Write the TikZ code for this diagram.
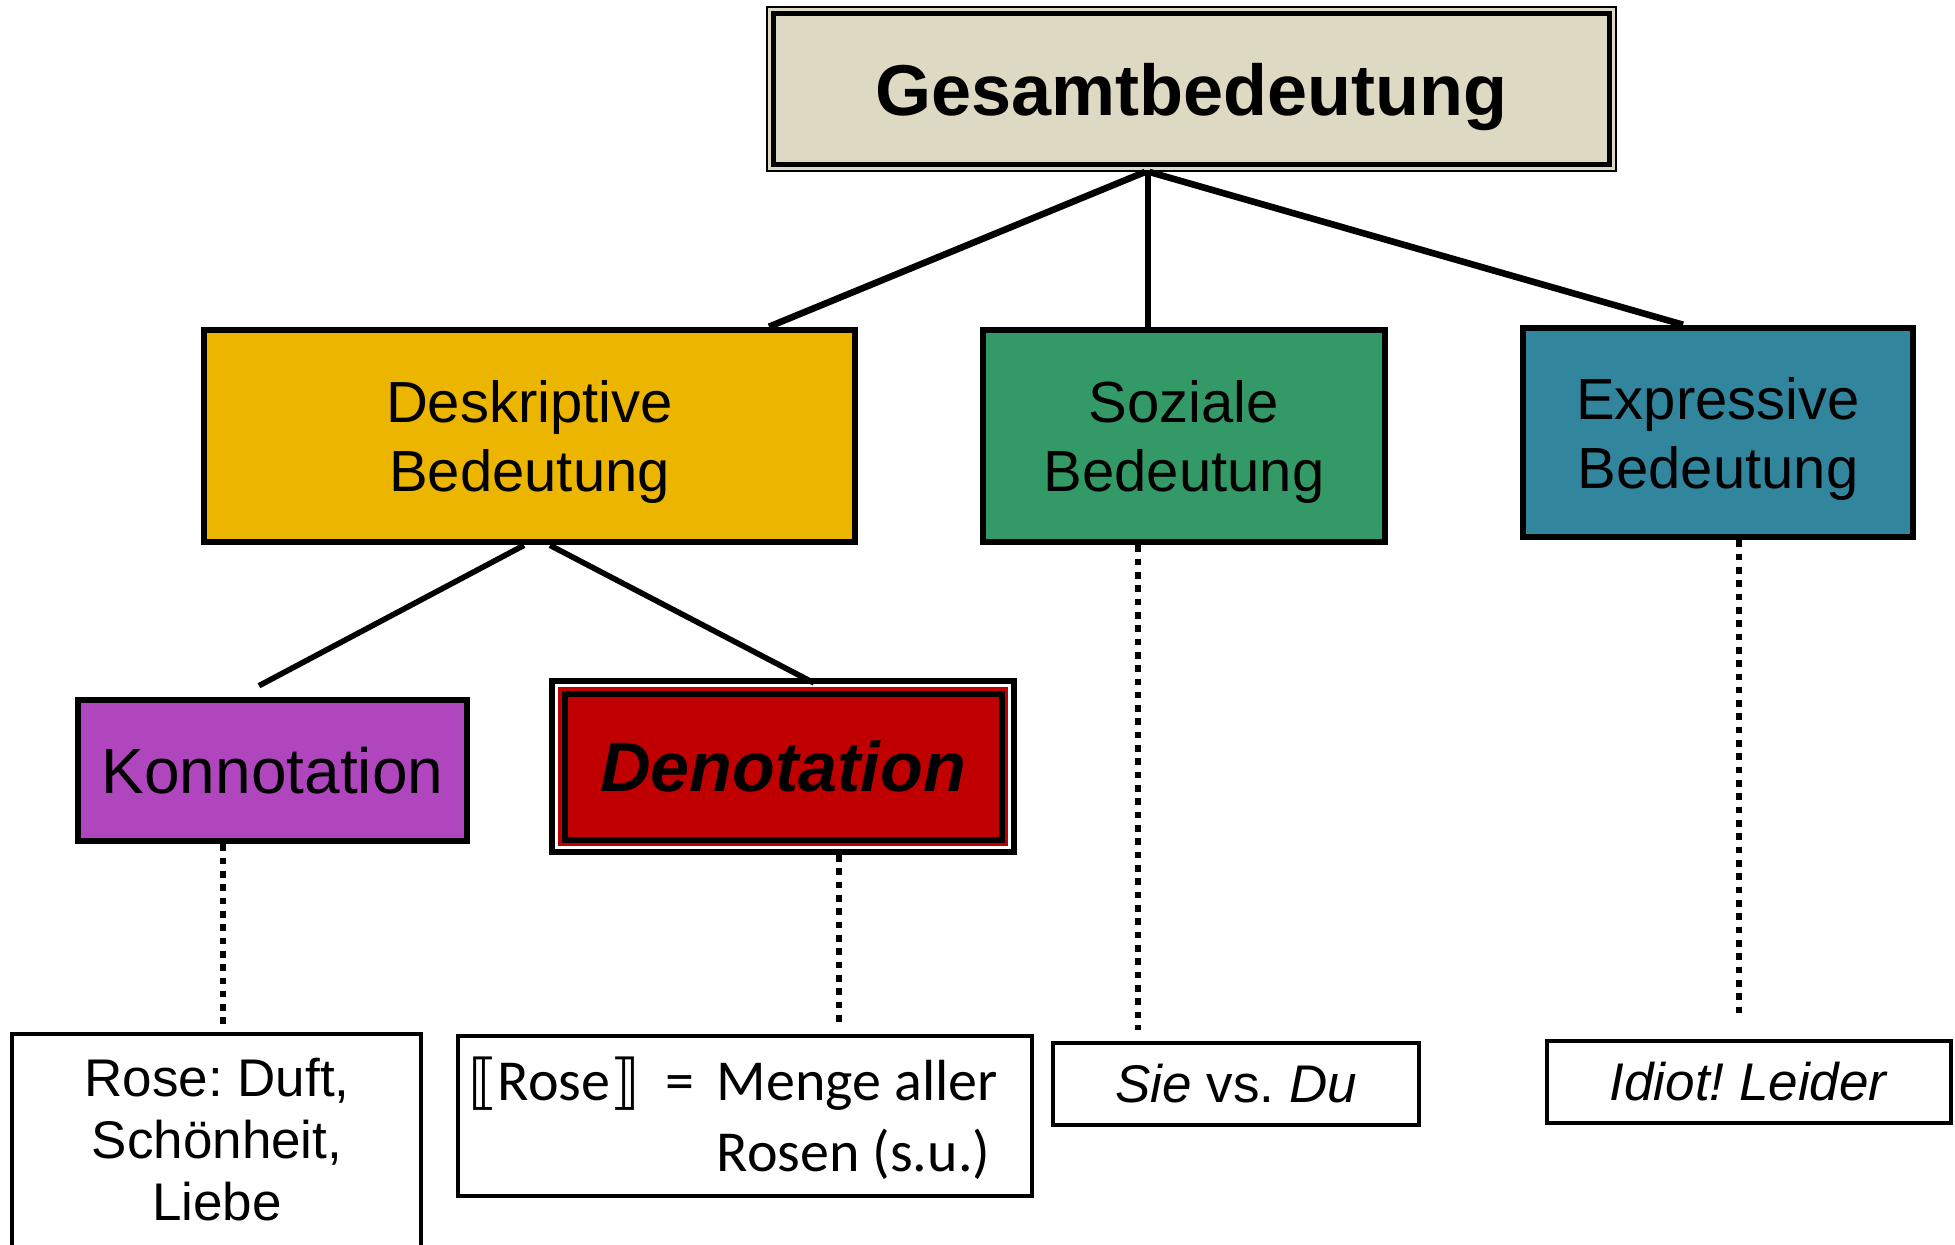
\documentclass[tikz,border=0pt]{standalone}
\usepackage{fontspec}
\setmainfont{Liberation Sans}
\newfontfamily\calfont{Carlito}
\newfontfamily\djvfont{DejaVu Sans}
\definecolor{beige}{HTML}{DDD9C3}
\definecolor{gold}{HTML}{ECB500}
\definecolor{sgreen}{HTML}{339966}
\definecolor{teal2}{HTML}{31859C}
\definecolor{purp}{HTML}{B046BE}
\definecolor{dred}{HTML}{C00000}
\frenchspacing
\begin{document}
\begin{tikzpicture}[x=0.5pt,y=-0.5pt,
  mainbox/.style={draw=black, line width=3.3pt, inner sep=0pt, align=center, text depth=0pt,
     font=\fontsize{29pt}{34.5pt}\selectfont},
  leaf/.style={draw=black, line width=2pt, fill=white, inner sep=0pt, align=center},
  conn/.style={line width=3.3pt},
  subconn/.style={line width=2.8pt},
  dots/.style={line width=3.3pt, dash pattern=on 3.33pt off 3.33pt},
]
\useasboundingbox (0,0) rectangle (1955,1244);
\clip (0,0) rectangle (1955,1244);
\fill[white] (0,0) rectangle (1955,1244);

% top box (double frame)
\node[draw=black, line width=1pt, fill=beige, minimum width=424.5pt, minimum height=82pt, inner sep=0pt] (gesamtframe) at (1191.5,89) {};
\node[draw=black, line width=2.5pt, minimum width=418pt, minimum height=75.5pt, inner sep=0pt, text depth=0pt,
      font=\fontsize{36pt}{40pt}\selectfont\bfseries] (gesamt) at (gesamtframe) {Gesamtbedeutung};

% second level
\node[mainbox, fill=gold, minimum width=325.5pt, minimum height=106pt] (desk) at (529.5,436) {Deskriptive\\Bedeutung};
\node[mainbox, fill=sgreen, minimum width=201pt, minimum height=106pt] (soz) at (1184,436) {Soziale\\Bedeutung};
\node[mainbox, fill=teal2, minimum width=195pt, minimum height=104.5pt] (expr) at (1718,432.5) {Expressive\\Bedeutung};

% third level
\node[mainbox, fill=purp, minimum width=194.5pt, minimum height=70.5pt, text depth=, font=\fontsize{32pt}{38pt}\selectfont] (konn) at (272.5,770.5) {Konnotation};
\node[draw=black, line width=3pt, fill=white, minimum width=231pt, minimum height=85.5pt, inner sep=0pt] (denoframe) at (783,766.5) {};
\node[fill=dred, minimum width=225pt, minimum height=79.5pt, inner sep=0pt] (denored) at (denoframe) {};
\node[draw=black, line width=3pt, fill=dred, minimum width=218.5pt, minimum height=73pt, inner sep=0pt,
      font=\fontsize{35pt}{40pt}\selectfont\bfseries\itshape] (deno) at (denoframe) {Denotation};

% leaves
\node[leaf, minimum width=204.5pt, minimum height=132pt] (leaf1) at (216.5,1166) {};
\node[inner sep=0pt, align=center, font=\fontsize{26.5pt}{31pt}\selectfont] (leaf1t) at (217,1140) {Rose: Duft,\\Schönheit,\\Liebe};
\node[leaf, minimum width=287pt, minimum height=80pt] (leaf2) at (745,1116) {};
\node[inner sep=0pt, font=\calfont\fontsize{29pt}{35.5pt}\selectfont] (leaf2t) at (733,1122)
  {\begin{tabular}{@{}l@{}l@{}}{\djvfont\fontsize{30pt}{32pt}\selectfont\raisebox{-1pt}{⟦}}Rose{\djvfont\fontsize{30pt}{32pt}\selectfont\raisebox{-1pt}{⟧}}\hspace{13pt}=\hspace{11pt} & Menge aller\\ & Rosen (s.u.)\end{tabular}};
\node[leaf, minimum width=183pt, minimum height=41pt, font=\fontsize{26.5pt}{31pt}\selectfont] (leaf3) at (1236,1084) {\textit{Sie} vs. \textit{Du}};
\node[leaf, minimum width=202pt, minimum height=41pt, font=\fontsize{26.5pt}{31pt}\selectfont] (leaf4) at (1749,1082) {\textit{Idiot! Leider}};

% connectors
\draw[conn] ([xshift=-23.25pt]gesamtframe.south) -- ([xshift=119.75pt]desk.north);
\draw[conn] ([xshift=-21.75pt]gesamtframe.south) -- ([xshift=-18pt]soz.north);
\draw[conn] ([xshift=-21pt]gesamtframe.south) -- ([xshift=-17.5pt]expr.north);
\draw[subconn] ([xshift=-2.75pt]desk.south) -- ([xshift=-6.75pt,yshift=5.5pt]konn.north);
\draw[subconn] ([xshift=10.25pt]desk.south) -- ([xshift=15.5pt,yshift=-2.5pt]denoframe.north);

% dotted connectors
\draw[dots] ([xshift=-24.75pt]konn.south) -- ([xshift=3.25pt,yshift=1.5pt]leaf1.north);
\draw[dots] ([xshift=28pt]denoframe.south) -- ([xshift=47pt,yshift=6pt]leaf2.north);
\draw[dots] ([xshift=-23pt]soz.south) -- ([xshift=-49pt,yshift=5.5pt]leaf3.north);
\draw[dots] ([xshift=10.5pt]expr.south) -- ([xshift=-5pt,yshift=12.5pt]leaf4.north);
\end{tikzpicture}
\end{document}
